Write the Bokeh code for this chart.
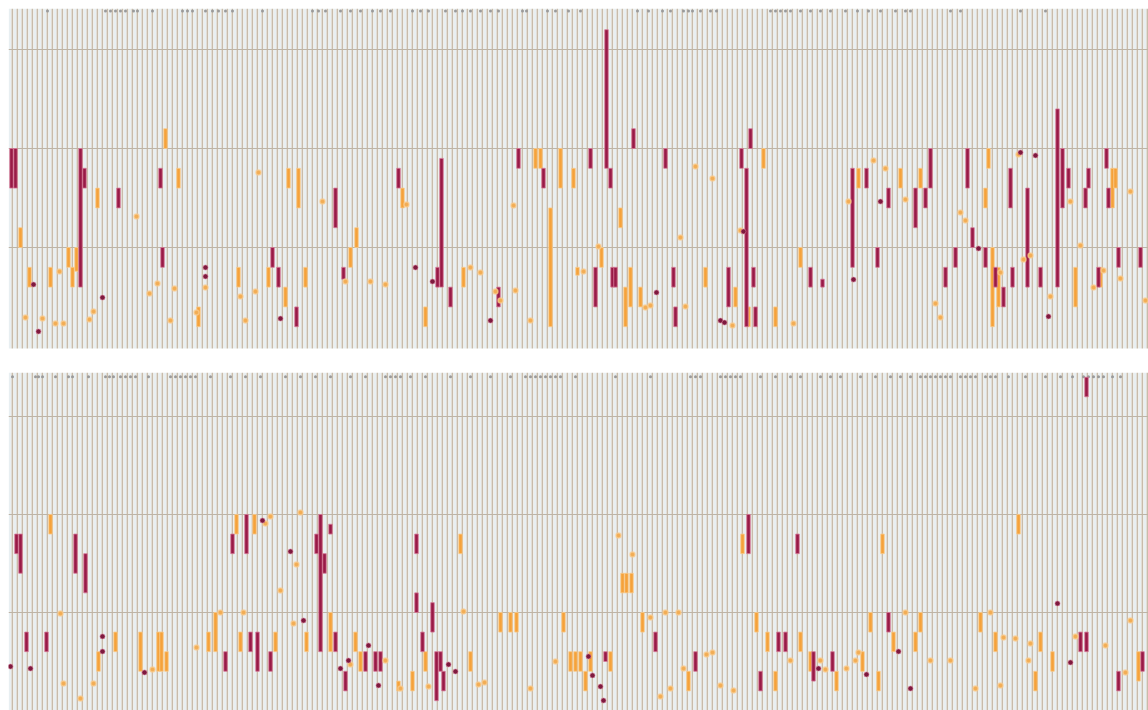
from bokeh.plotting import figure
from bokeh.models import Range1d, ColumnDataSource
from bokeh.layouts import column
from bokeh.embed import file_html
from bokeh.resources import INLINE

# ---------------- data ----------------
N_COLUMNS = 230
columns = list(range(N_COLUMNS))
grid_values = [5, 10, 15]

# (x, low, high)
top_crimson_bars = [
    (0.6, 8, 10), (1.4, 8, 10), (14.4, 3, 10), (15.2, 8, 9), (22, 7, 8), (30.4, 8, 9),
    (30.8, 4, 5), (52.8, 4, 5), (54, 3, 4), (57.6, 1, 2), (65.4, 6, 8), (67, 3.4, 4),
    (78, 8, 9), (85.8, 3, 4), (86.6, 3, 9.5), (88.4, 2, 3), (98, 2, 3), (102, 9, 10),
    (107, 8, 9), (116.4, 9, 10), (117.4, 2, 4), (119.6, 9, 16), (120.4, 8, 9),
    (120.8, 3, 4), (121.4, 3, 4), (125, 10, 11), (131.4, 9, 10), (133, 3, 4),
    (133.4, 1, 2), (144, 2, 4), (146.6, 9, 10), (147.6, 1, 9), (148.4, 10, 11),
    (149, 3, 4), (149.4, 1, 2), (160.4, 3, 4), (162.8, 3, 3.4), (168.8, 4, 9),
    (171.6, 8, 9), (173.8, 4, 5), (176, 7, 8), (181.4, 6, 8), (183.4, 7, 8),
    (184.4, 8, 10), (187.4, 3, 4), (189.4, 4, 5), (191.8, 8, 10), (192.8, 5, 6),
    (195.4, 4, 5), (197.4, 3, 4), (199, 2, 3), (200.4, 7, 9), (200.8, 3, 4),
    (203.8, 3, 8), (206.4, 3, 4), (209.8, 3, 12), (210.8, 7, 10), (212, 8, 9),
    (215.4, 7, 8), (216, 8, 9), (218, 3, 4), (219.6, 9, 10), (220, 7, 8),
    (222, 4, 5), (226.4, 4, 5),
]
top_orange_bars = [
    (2.4, 5, 6), (4.2, 3, 4), (8.4, 3, 4), (12, 4, 5), (12.8, 3, 4), (13.6, 3.8, 5),
    (17.8, 7, 8), (31.4, 10, 11), (34, 8, 9), (38, 1, 2), (46, 3, 4), (52, 3, 4),
    (55.4, 2, 3), (56, 8, 9), (58, 7, 9), (59.4, 3, 4), (68.4, 4, 5), (69.6, 5, 6),
    (78.8, 7, 8), (83.4, 1, 2), (91, 3, 4), (105.4, 9, 10), (106.4, 9, 10),
    (108.4, 1, 7), (110.4, 8, 10), (113, 8, 9), (113.8, 3.6, 4), (118.6, 4, 5),
    (122.4, 6, 7), (123.4, 1, 3), (124.4, 2, 4), (126.4, 2, 3), (139.4, 3, 4),
    (145.4, 2, 3), (148, 1, 2), (151, 9, 10), (153.4, 1, 2), (158.4, 4, 5),
    (170, 8, 9), (178.4, 8, 9), (182.4, 8, 9), (195.4, 7, 8), (196, 9, 10),
    (196.8, 1, 5), (198, 2, 4), (213.4, 2, 4), (218.4, 3, 4), (220.8, 7, 9),
    (221.4, 8, 9),
]
# (x, value)
top_orange_dots = [
    (3.4, 1.46), (6.8, 1.41), (9.4, 1.16), (11, 1.16), (10.2, 3.79), (16.2, 1.36),
    (17, 1.77), (25.6, 6.57), (28.2, 2.68), (29.8, 3.18), (32.4, 1.31), (33.2, 2.93),
    (37.6, 1.72), (39.4, 2.98), (46.4, 2.53), (47.4, 1.31), (49.4, 2.78), (50, 8.79),
    (62.8, 7.32), (67.4, 3.28), (72.4, 3.28), (75.4, 3.13), (79.6, 7.17), (92.4, 3.99),
    (94.4, 3.74), (97.4, 2.78), (98.4, 2.32), (101, 7.12), (101.4, 2.83), (104.4, 1.31),
    (115, 3.79), (118, 5.05), (127.4, 1.97), (128.4, 2.07), (134.4, 5.5), (135.4, 2.02),
    (137.4, 9.09), (140.8, 8.48), (144.8, 1.06), (146.4, 5.86), (157, 1.16), (168, 7.32),
    (173, 9.39), (175.4, 8.99), (179.4, 7.42), (185.4, 2.17), (186.4, 1.46), (190.4, 6.77),
    (191.4, 6.36), (198.4, 3.74), (202, 9.7), (203, 4.39), (204.4, 4.6), (208.4, 2.53),
    (212.4, 7.32), (214.4, 5.1), (217, 2.98), (219, 3.84), (222.4, 3.43), (224.4, 7.83),
    (227.4, 2.32),
]
top_crimson_dots = [
    (5, 3.13), (6, 0.76), (18.8, 2.47), (39.4, 3.99), (39.4, 3.54), (54.4, 1.41),
    (81.4, 3.99), (84.8, 3.28), (96.4, 1.31), (129.6, 2.73), (142.4, 1.31), (143.2, 1.21),
    (147, 5.81), (169, 3.38), (174.4, 7.32), (194, 4.95), (202.4, 9.8), (205.4, 9.65),
    (208, 1.52),
]
top_header_dots = [
    7.8, 19.4, 20.4, 21.4, 22.4, 23.4, 25, 25.8, 28.8, 34.8, 35.8, 36.8, 39.4, 40.8, 42,
    43.4, 44.8, 50.8, 60.8, 62, 63.4, 66.4, 68.4, 70.4, 72.8, 74.4, 76.4, 80.8, 82.4, 84,
    87.4, 89.4, 90.8, 92.4, 94.4, 96.4, 98, 102.8, 103.6, 107.8, 109.4, 112, 114.4, 125.8,
    128, 130.8, 132.4, 135, 136, 136.8, 138.4, 140.4, 141.6, 152.4, 153.4, 154.4, 155.4,
    156.4, 158.4, 160.4, 162.4, 164.4, 167.4, 169.8, 172, 174.4, 177.4, 179.4, 180.4,
    188.4, 190.4, 202.4, 207.4,
]

bottom_crimson_bars = [
    (1.6, 8, 9), (2.4, 7, 9), (3.6, 3, 4), (7.6, 3, 4), (13.4, 7, 9), (15.4, 6, 8),
    (43.4, 2, 3), (44.8, 8, 9), (47.6, 8, 10), (48.4, 3, 4), (49.8, 2, 4), (52.4, 2, 3),
    (61.6, 8, 9), (62.4, 3, 10), (63.2, 7, 8), (64.4, 9, 9.5), (65.4, 3, 4), (67.4, 1, 2),
    (71.4, 2, 3), (73.4, 2, 3), (74.4, 2, 3), (81.6, 8, 9), (81.6, 5, 6), (82.8, 3, 4),
    (84.8, 4, 5.5), (85.6, 0.5, 3), (86.4, 2, 3), (87, 1, 2), (119.4, 2.5, 3),
    (129.4, 3, 4), (137.4, 2, 3), (148, 8, 10), (150.4, 1, 2), (154, 3, 4), (155.4, 3, 4),
    (157.8, 8, 9), (161, 1.5, 3), (164.8, 2, 3), (176, 4, 5), (214.4, 3, 4),
    (215.6, 3, 4), (215.6, 16, 17), (222, 1, 2), (226.8, 2, 3),
]
bottom_orange_bars = [
    (8.4, 9, 10), (18, 2, 3), (21.4, 3, 4), (26.4, 2, 4), (30, 2, 4), (30.6, 2, 4),
    (31.6, 2, 3), (40, 3, 4), (41.4, 3, 5), (45.6, 9, 10), (46.4, 3, 4), (49.2, 9, 10),
    (53.4, 3, 4), (59.6, 3, 4), (64.4, 3, 5), (69.4, 3, 4), (70.4, 2, 3), (78, 1, 1.5),
    (80.8, 1, 2), (83.4, 2, 3), (90.4, 8, 9), (92.4, 2, 3), (98.4, 4, 5), (100.4, 4, 5),
    (101.6, 4, 5), (111, 4, 5), (112.4, 2, 3), (113.4, 2, 3), (114.4, 2, 3), (115.4, 1, 2),
    (116.4, 2, 3), (120.4, 2, 3), (122.8, 6, 7), (123.6, 6, 7), (124.6, 6, 7),
    (126.8, 4, 5), (136, 1, 2), (146.8, 8, 9), (149.6, 4, 5), (151.8, 3, 4), (153.4, 1, 2),
    (158.4, 3, 4), (160.4, 2, 3), (165.6, 1, 2), (170.8, 2, 3), (172.4, 4, 5), (174, 1, 2),
    (174.8, 8, 9), (177, 3, 4), (181.4, 3, 4), (182.4, 4, 5), (194.4, 4, 5), (197.4, 3, 4),
    (202, 9, 10), (205.4, 1, 2), (206.4, 3, 4), (208.8, 2, 3), (226, 1.5, 3),
]
bottom_orange_dots = [
    (10.4, 4.95), (11, 1.38), (14.4, 0.61), (17, 1.38), (28.8, 2.09), (37.6, 3.21),
    (42.4, 5.0), (47, 5.0), (51.4, 9.54), (52.4, 9.9), (54.4, 6.12), (57, 4.44),
    (57.6, 7.45), (58.4, 10.1), (68.4, 2.35), (75.4, 2.55), (78.4, 1.12), (84, 1.22),
    (91, 5.05), (94, 1.33), (95.2, 1.43), (104.4, 1.12), (109.4, 2.5), (122, 8.93),
    (124.8, 7.96), (128.4, 4.74), (130.4, 0.71), (131.4, 5.0), (132.4, 1.12), (134, 5.0),
    (135, 2.14), (139.6, 2.86), (140.8, 2.96), (142.4, 1.28), (145, 1.02), (156.4, 2.55),
    (162.4, 2.55), (163.4, 2.09), (167.6, 2.14), (169.4, 2.55), (170, 2.96), (179.4, 5.0),
    (184.4, 2.55), (188.4, 2.55), (193.4, 1.12), (196.4, 5.0), (198.4, 1.28), (199, 3.72),
    (201.4, 3.67), (204, 2.55), (204.4, 3.42), (213.4, 3.78), (219.4, 3.32), (223.4, 1.94),
    (224.4, 4.59),
]
bottom_crimson_dots = [
    (0.4, 2.24), (4.4, 2.14), (18.8, 3.78), (18.8, 3.01), (27.2, 1.94), (50.8, 9.69),
    (56.4, 8.11), (59, 4.59), (66.4, 2.14), (68, 2.55), (72, 3.32), (74, 1.28), (88, 2.35),
    (89.4, 1.99), (116, 2.76), (116.8, 1.79), (118.4, 1.22), (119, 0.51), (162, 2.14),
    (171.6, 1.84), (178, 3.01), (180.4, 1.12), (209.8, 5.46), (212.4, 2.45),
]
bottom_header_dots = [
    0.8, 5.4, 6, 6.8, 9.4, 12, 12.8, 16, 19.4, 20.2, 21, 22.4, 23.4, 24.4, 25.4, 28,
    32.4, 33.4, 34.4, 35.4, 36.4, 37.4, 40.4, 44.4, 47.4, 50.4, 55.4, 58.4, 61.4, 64.4,
    68.4, 71.4, 75.4, 76.4, 77.4, 78.4, 80.4, 83.4, 88.4, 92.4, 96.4, 100.4, 103.4, 104.4,
    105.4, 106.4, 107.4, 108.4, 109.4, 110.4, 113.4, 121.4, 128.4, 136.4, 137.4, 138.4,
    142.4, 143.4, 144.4, 145.4, 146.4, 150.4, 153.4, 156.4, 158.4, 162.4, 164.4, 166.4,
    170.4, 173.4, 176.4, 178.4, 180.4, 182.4, 183.4, 184.4, 185.4, 186.4, 187.4, 188.4,
    190.4, 191.4, 192.4, 193.4, 195.4, 196.4, 197.4, 200, 203.4, 207.4, 210.4, 212.8,
    215, 216, 217, 218, 219, 220.8, 222.4,
]

# ---------------- styling ----------------
CRIMSON = "#981a46"
CRIMSON_EDGE = "#d77a98"
ORANGE = "#f5a23a"
ORANGE_EDGE = "#f9cc8e"
DOT_CRIMSON = "#7d1a3e"
LIGHT_STRIPE = "#e8eff2"
TAN_STRIPE = "#c8bcab"
GRID = "#bdb4a6"
HEADER = "#9a9a9a"


def bars_source(rows):
    return ColumnDataSource(dict(x=[r[0] for r in rows], lo=[r[1] for r in rows],
                                 hi=[r[2] for r in rows]))


def dots_source(rows):
    return ColumnDataSource(dict(x=[r[0] for r in rows], y=[r[1] for r in rows]))


def make_panel(height, y_lo, y_hi, border_top, stripe_bottom, header_y,
               c_bars, o_bars, o_dots, c_dots, header):
    p = figure(width=1148, height=height, x_range=Range1d(0, 228),
               y_range=Range1d(y_lo, y_hi), output_backend="svg",
               toolbar_location=None, min_border_left=8, min_border_right=0,
               min_border_top=border_top, min_border_bottom=0)
    p.axis.visible = False
    p.grid.visible = False
    p.outline_line_color = None
    p.background_fill_color = "white"
    p.border_fill_color = "white"

    p.quad(left=[c + 0.04 for c in columns], right=[c + 0.52 for c in columns],
           bottom=stripe_bottom, top=y_hi, fill_color=LIGHT_STRIPE, line_color=None)
    p.quad(left=[c + 0.6 for c in columns], right=[c + 0.94 for c in columns],
           bottom=stripe_bottom, top=y_hi, fill_color=TAN_STRIPE, line_color=None)
    p.hspan(y=grid_values, line_color=GRID, line_width=1)

    p.scatter(x=header, y=[header_y] * len(header), size=3, fill_color=HEADER,
              line_color=None)

    p.vbar(x="x", bottom="lo", top="hi", width=0.7, source=bars_source(o_bars),
           fill_color=ORANGE, line_color=ORANGE_EDGE, line_width=1, line_alpha=0.8)
    p.vbar(x="x", bottom="lo", top="hi", width=0.7, source=bars_source(c_bars),
           fill_color=CRIMSON, line_color=CRIMSON_EDGE, line_width=1, line_alpha=0.8)
    p.scatter(x="x", y="y", source=dots_source(o_dots), size=5, fill_color="#f2ad55",
              line_color=ORANGE_EDGE, line_width=1.5, line_alpha=0.7)
    p.scatter(x="x", y="y", source=dots_source(c_dots), size=5, fill_color=DOT_CRIMSON,
              line_color=CRIMSON_EDGE, line_width=1, line_alpha=0.6)
    return p


top = make_panel(349, -0.15, 17.07, 8, -0.1, 16.95, top_crimson_bars, top_orange_bars,
                 top_orange_dots, top_crimson_dots, top_header_dots)
bottom = make_panel(361, 0.0, 17.24, 23, -1, 17.02, bottom_crimson_bars,
                    bottom_orange_bars, bottom_orange_dots, bottom_crimson_dots,
                    bottom_header_dots)

layout = column(top, bottom, spacing=0)
open("out.html", "w").write(file_html(layout, INLINE))
